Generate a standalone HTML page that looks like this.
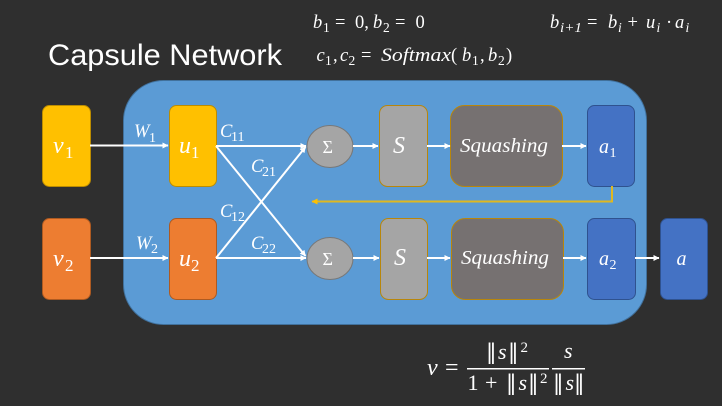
<!DOCTYPE html>
<html><head><meta charset="utf-8"><style>
html,body{margin:0;padding:0;background:#2f2f2f;width:722px;height:406px;overflow:hidden}
svg{display:block}
text{fill:#fff;font-family:"Liberation Serif",serif;font-style:italic}
.n{font-style:normal}
.big{font-size:24px}
.bs{font-size:17px;font-style:normal}
.m{font-size:18.500px}
.s{font-size:14px;font-style:normal}
.f{font-size:18.500px}
.fn{font-size:18.500px;font-style:normal}
.fs{font-size:13.500px;font-style:normal}
.fi{font-size:13.500px}
.bar{font-family:"DejaVu Sans",sans-serif;font-style:normal;font-size:21px}
</style></head><body>
<svg width="722" height="406" viewBox="0 0 722 406" xmlns="http://www.w3.org/2000/svg">
<defs>
<marker id="w" markerWidth="7" markerHeight="7" refX="5.5" refY="3" orient="auto" markerUnits="userSpaceOnUse"><path d="M0 0L6 3L0 6z" fill="#fff"/></marker>
<marker id="y" markerWidth="7" markerHeight="7" refX="5.5" refY="3" orient="auto" markerUnits="userSpaceOnUse"><path d="M0 0L6 3L0 6z" fill="#ffc000"/></marker>
</defs>
<rect width="722" height="406" fill="#2f2f2f"/>
<text x="48" y="65" class="n" style="font-family:'Liberation Sans',sans-serif;font-size:29.500px" textLength="234" lengthAdjust="spacingAndGlyphs">Capsule Network</text>

<rect x="123.500" y="80.500" width="523" height="244" rx="40" fill="#5b9bd5" stroke="#41719c" stroke-width="1"/>

<g stroke-width="1">
<rect x="42.500" y="105.500" width="48" height="81" rx="7" fill="#ffc000" stroke="#bc8c00"/>
<rect x="42.500" y="218.500" width="48" height="81" rx="7" fill="#ed7d31" stroke="#ae5a21"/>
<rect x="169.500" y="105.500" width="47" height="81" rx="7" fill="#ffc000" stroke="#bc8c00"/>
<rect x="169.500" y="218.500" width="47" height="81" rx="7" fill="#ed7d31" stroke="#ae5a21"/>
<ellipse cx="330" cy="146.500" rx="23" ry="21" fill="#a5a5a5" stroke="#787878"/>
<ellipse cx="330" cy="258.500" rx="23" ry="21" fill="#a5a5a5" stroke="#787878"/>
<rect x="379.500" y="105.500" width="48" height="81" rx="8" fill="#a5a5a5" stroke="#b8860b"/>
<rect x="380.500" y="218.500" width="47" height="81" rx="8" fill="#a5a5a5" stroke="#b8860b"/>
<rect x="450.500" y="105.500" width="112" height="81" rx="14" fill="#767171" stroke="#b8860b"/>
<rect x="451.500" y="218.500" width="112" height="81" rx="14" fill="#767171" stroke="#b8860b"/>
<rect x="587.500" y="105.500" width="47" height="81" rx="7" fill="#4472c4" stroke="#2f528f"/>
<rect x="587.500" y="218.500" width="48" height="81" rx="7" fill="#4472c4" stroke="#2f528f"/>
<rect x="660.500" y="218.500" width="47" height="81" rx="7" fill="#4472c4" stroke="#2f528f"/>
</g>

<g stroke="#fff" stroke-width="2" fill="none">
<line x1="90" y1="145.500" x2="168" y2="145.500" marker-end="url(#w)"/>
<line x1="90" y1="258" x2="168" y2="258" marker-end="url(#w)"/>
<line x1="216" y1="146" x2="306" y2="146" marker-end="url(#w)"/>
<line x1="216" y1="146" x2="305.500" y2="256" marker-end="url(#w)"/>
<line x1="216" y1="258" x2="305.500" y2="147" marker-end="url(#w)"/>
<line x1="216" y1="258" x2="306" y2="258" marker-end="url(#w)"/>
<line x1="353" y1="146" x2="378" y2="146" marker-end="url(#w)"/>
<line x1="353" y1="258" x2="379" y2="258" marker-end="url(#w)"/>
<line x1="427" y1="146" x2="450" y2="146" marker-end="url(#w)"/>
<line x1="427" y1="258" x2="450" y2="258" marker-end="url(#w)"/>
<line x1="562" y1="146" x2="586" y2="146" marker-end="url(#w)"/>
<line x1="563" y1="258" x2="586" y2="258" marker-end="url(#w)"/>
<line x1="635" y1="258" x2="659" y2="258" marker-end="url(#w)"/>
</g>
<path d="M612 186V201.500H312" fill="none" stroke="#e0b820" stroke-width="2" marker-end="url(#y)"/>

<text x="53" y="153" class="big">v</text><text x="65" y="158" class="bs">1</text>
<text x="53" y="266" class="big">v</text><text x="65" y="271" class="bs">2</text>
<text x="179" y="153" class="big">u</text><text x="191" y="158" class="bs">1</text>
<text x="179" y="266" class="big">u</text><text x="191" y="271" class="bs">2</text>
<text x="134" y="137" class="m">W</text><text x="149" y="142" class="s">1</text>
<text x="136" y="249" class="m">W</text><text x="151" y="253" class="s">2</text>
<text x="220" y="137" class="m">C</text><text x="231" y="141" class="s">11</text>
<text x="251" y="172" class="m">C</text><text x="262" y="176" class="s">21</text>
<text x="220" y="217" class="m">C</text><text x="231" y="221" class="s">12</text>
<text x="251" y="249" class="m">C</text><text x="262" y="253" class="s">22</text>
<text x="322.500" y="153" class="n" style="font-size:18px">Σ</text>
<text x="322.500" y="265" class="n" style="font-size:18px">Σ</text>
<text x="393" y="153" style="font-size:24px">S</text>
<text x="394" y="265" style="font-size:24px">S</text>
<text x="460" y="152" style="font-size:20px" textLength="88" lengthAdjust="spacingAndGlyphs">Squashing</text>
<text x="461" y="264" style="font-size:20px" textLength="88" lengthAdjust="spacingAndGlyphs">Squashing</text>
<text x="599" y="153" style="font-size:20px">a</text><text x="609.500" y="157" class="s">1</text>
<text x="599" y="265" style="font-size:20px">a</text><text x="609.500" y="269" class="s">2</text>
<text x="676.500" y="265" style="font-size:20px">a</text>

<text x="313" y="28" class="f">b</text><text x="323" y="32" class="fs">1</text>
<text x="335" y="28" class="fn">=</text><text x="355" y="28" class="fn">0,</text>
<text x="373" y="28" class="f">b</text><text x="383" y="32" class="fs">2</text>
<text x="395" y="28" class="fn">=</text><text x="415.500" y="28" class="fn">0</text>

<text x="316.500" y="61" class="f">c</text><text x="325" y="65" class="fs">1</text>
<text x="333" y="61" class="fn">,</text>
<text x="340" y="61" class="f">c</text><text x="348.500" y="65" class="fs">2</text>
<text x="361" y="61" class="fn">=</text>
<text x="381" y="61" class="f" textLength="70" lengthAdjust="spacingAndGlyphs">Softmax</text>
<text x="451" y="61" class="fn">(</text>
<text x="462" y="61" class="f">b</text><text x="472" y="65" class="fs">1</text>
<text x="480" y="61" class="fn">,</text>
<text x="488" y="61" class="f">b</text><text x="498" y="65" class="fs">2</text>
<text x="506" y="61" class="fn">)</text>

<text x="550" y="28" class="f">b</text><text x="560" y="32" class="fi" textLength="22" lengthAdjust="spacingAndGlyphs">i+1</text>
<text x="587" y="28" class="fn">=</text>
<text x="608" y="28" class="f">b</text><text x="618" y="32" class="fi">i</text>
<text x="627.500" y="28" class="fn">+</text>
<text x="646" y="28" class="f">u</text><text x="656.500" y="32" class="fi">i</text>
<text x="666" y="28" class="fn">·</text>
<text x="675" y="28" class="f">a</text><text x="685.500" y="32" class="fi">i</text>

<text x="427" y="375" style="font-size:24px">v</text>
<text x="445" y="375" class="n" style="font-size:24px">=</text>
<rect x="467" y="368" width="82" height="1.500" fill="#fff"/>
<rect x="552" y="368" width="33" height="1.500" fill="#fff"/>
<text x="486" y="359" class="bar">‖</text><text x="498" y="359" style="font-size:22px">s</text><text x="508" y="359" class="bar">‖</text><text x="520.500" y="352" class="n" style="font-size:15px">2</text>
<text x="467.500" y="390" class="n" style="font-size:22px">1</text><text x="485" y="390" class="n" style="font-size:22px">+</text>
<text x="506" y="390" class="bar">‖</text><text x="518.500" y="390" style="font-size:22px">s</text><text x="528" y="390" class="bar">‖</text><text x="540" y="383" class="n" style="font-size:15px">2</text>
<text x="564" y="358" style="font-size:22px">s</text>
<text x="553" y="390" class="bar">‖</text><text x="565.500" y="390" style="font-size:22px">s</text><text x="574" y="390" class="bar">‖</text>
</svg>
</body></html>
